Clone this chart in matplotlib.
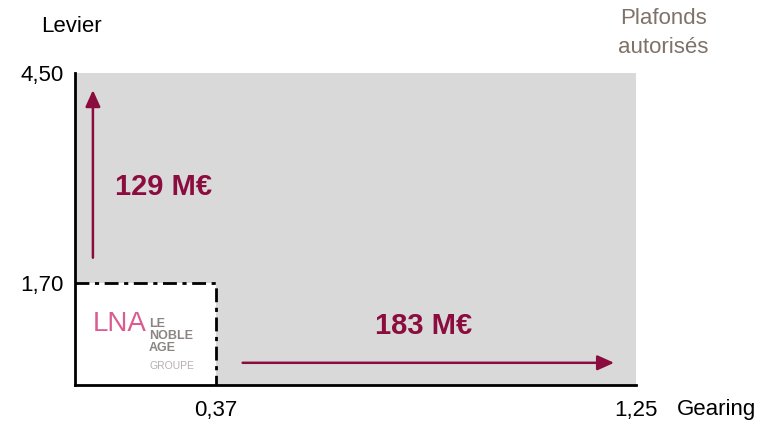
import numpy as np
import matplotlib.pyplot as plt
from matplotlib.patches import Rectangle

plt.rcParams['font.family'] = ['Liberation Sans', 'DejaVu Sans']

# Données
gearing = [0.0, 0.37, 1.25]        # seuils de gearing (actuel, plafond)
levier = [0.0, 1.70, 4.50]         # seuils de levier (actuel, plafond)
gearing_labels = ['0,37', '1,25']
levier_labels = ['1,70', '4,50']
montants = ['183 M€', '129 M€']    # marge gearing, marge levier

# positions visuelles des seuils (l'échelle du graphique d'origine n'est pas linéaire)
pos_x = [0.0, 0.2513, 1.0]
pos_y = [0.0, 0.327, 1.0]

bordeaux = '#8b0c3e'
gris = '#d9d9d9'

fig = plt.figure(figsize=(7.72, 4.24), dpi=100)
ax = fig.add_axes([75 / 772, 1 - 385 / 424, (636 - 75) / 772, (385 - 73) / 424])

ax.set_xscale('function', functions=(lambda v: np.interp(v, gearing, pos_x),
                                     lambda v: np.interp(v, pos_x, gearing)))
ax.set_yscale('function', functions=(lambda v: np.interp(v, levier, pos_y),
                                     lambda v: np.interp(v, pos_y, levier)))
ax.set_xlim(gearing[0], gearing[-1])
ax.set_ylim(levier[0], levier[-1])

# zone autorisée
ax.add_patch(Rectangle((0, 0), gearing[-1], levier[-1], facecolor=gris, edgecolor='none', zorder=0))
# position actuelle
ax.add_patch(Rectangle((0, 0), gearing[1], levier[1], facecolor='white', edgecolor='none', zorder=1))
ax.plot([0, gearing[1], gearing[1]], [levier[1], levier[1], 0], color='black', lw=2,
        linestyle=(0, (5, 2, 1.5, 2)), zorder=2)

for s in ['top', 'right']:
    ax.spines[s].set_visible(False)
for s in ['left', 'bottom']:
    ax.spines[s].set_linewidth(2)

ax.set_xticks(gearing[1:])
ax.set_xticklabels(gearing_labels, fontsize=16)
ax.set_yticks(levier[1:])
ax.set_yticklabels(levier_labels, fontsize=16)
ax.tick_params(axis='y', length=0, pad=8)
ax.tick_params(axis='x', length=0, pad=11)

# flèches de marge
ax.annotate('', xy=(0.047, 4.31), xytext=(0.047, 2.0),
            arrowprops=dict(arrowstyle='-|>,head_width=0.45,head_length=1.0', color=bordeaux, lw=1.8))
ax.annotate('', xy=(1.21, 0.37), xytext=(0.42, 0.37),
            arrowprops=dict(arrowstyle='-|>,head_width=0.45,head_length=1.0', color=bordeaux, lw=1.8))

fig.text(115 / 772, 1 - 187 / 424, montants[1], color=bordeaux, fontsize=21,
         fontweight='bold', va='center', ha='left')
fig.text(375 / 772, 1 - 326 / 424, montants[0], color=bordeaux, fontsize=21,
         fontweight='bold', va='center', ha='left')

# titres des axes
fig.text(71 / 772, 1 - 27 / 424, 'Levier', fontsize=16, ha='center', va='center')
fig.text(717 / 772, 1 - 410 / 424, 'Gearing', fontsize=16, ha='center', va='center')
fig.text(663 / 772, 1 - 33 / 424, 'Plafonds\nautorisés', fontsize=16, ha='center', va='center',
         color='#7f7268', linespacing=1.45)

# logo
fig.text(93 / 772, 1 - 324 / 424, 'LNA', fontsize=20, color='#d43f7d', ha='left', va='center',
         alpha=0.85)
fig.text(149 / 772, 1 - 336 / 424, 'LE\nNOBLE\nAGE', fontsize=9, color='#8a8482', ha='left',
         va='center', fontweight='bold', linespacing=1.0)
fig.text(149 / 772, 1 - 366 / 424, 'GROUPE', fontsize=7.5, color='#b5b0ae', ha='left', va='center')

fig.savefig('out.png', dpi=100)
